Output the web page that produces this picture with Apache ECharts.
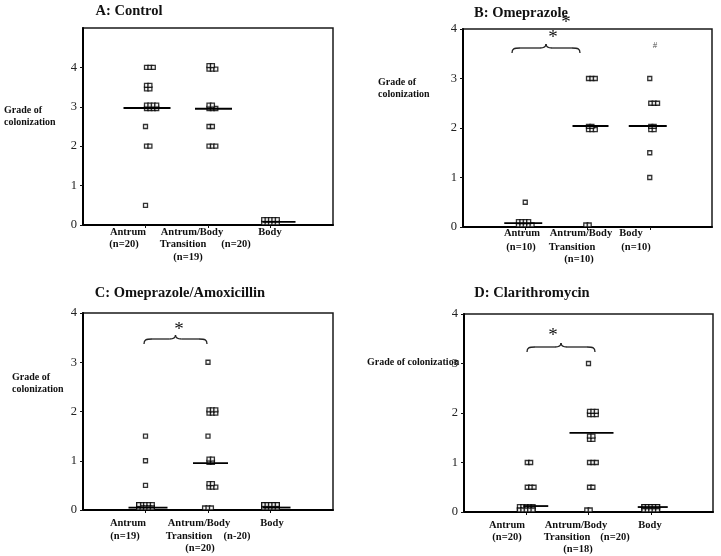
<!DOCTYPE html>
<html><head><meta charset="utf-8">
<script src="https://cdn.jsdelivr.net/npm/echarts@6/dist/echarts.min.js"></script>
<style>html,body{margin:0;padding:0;background:#fff}#c{width:721px;height:556px}</style>
</head><body><div id="c"></div>
<script>
// ---------- DATA ----------
const categories = ['Antrum', 'Antrum/Body Transition', 'Body'];
const catPos = [1, 2, 3];
const yTickLabels = [0, 1, 2, 3, 4];
const panelTitles = ['A: Control', 'B: Omeprazole', 'C: Omeprazole/Amoxicillin', 'D: Clarithromycin'];

// each entry: [grade of colonization, number of animals]
const controlAntrum = [[4, 3], [3.5, 4], [3, 8], [2.5, 1], [2, 2], [0.5, 1]];
const controlTransition = [[4, 5], [3, 5], [2.5, 2], [2, 3]];
const controlBody = [[0, 10]];
const controlMedians = [2.97, 2.95, 0.08];

const omeAntrum = [[0.5, 1], [0, 9]];
const omeTransition = [[3, 3], [2, 5], [0, 2]];
const omeBody = [[3, 1], [2.5, 3], [2, 4], [1.5, 1], [1, 1]];
const omeMedians = [0.08, 2.04, 2.04];

const omeAmoxAntrum = [[1.5, 1], [1, 1], [0.5, 1], [0, 16]];
const omeAmoxTransition = [[3, 1], [2, 6], [1.5, 1], [1, 4], [0.5, 5], [0, 3]];
const omeAmoxBody = [[0, 20]];
const omeAmoxMedians = [0.05, 0.95, 0.05];

const clariAntrum = [[1, 2], [0.5, 3], [0, 15]];
const clariTransition = [[3, 1], [2, 6], [1.5, 4], [1, 3], [0.5, 2], [0, 2]];
const clariBody = [[0, 20]];
const clariMedians = [0.12, 1.6, 0.1];

// ---------- LAYOUT / STYLE ----------
const SERIF = '"Liberation Serif","Times New Roman",serif';
const SP = 3.4; // marker spacing px
const panels = [
  { groups: [controlAntrum, controlTransition, controlBody], medians: controlMedians, yMax: 5,
    grid: { left: 83, top: 28, width: 250, height: 197 }, labelPad: 0,
    medExt: [[22, 25], [13, 24], [8, 25]] },
  { groups: [omeAntrum, omeTransition, omeBody], medians: omeMedians, yMax: 4,
    grid: { left: 463, top: 29, width: 249, height: 198 }, labelPad: 0,
    medExt: [[21, 17], [15, 21], [21, 17]] },
  { groups: [omeAmoxAntrum, omeAmoxTransition, omeAmoxBody], medians: omeAmoxMedians, yMax: 4,
    grid: { left: 83, top: 313, width: 250, height: 197 }, labelPad: 8,
    medExt: [[17, 22], [15, 20], [8, 20]] },
  { groups: [clariAntrum, clariTransition, clariBody], medians: clariMedians, yMax: 4,
    grid: { left: 464, top: 314, width: 249, height: 198 }, labelPad: 5,
    medExt: [[3, 22], [19, 25], [13, 17]] }
];

function buildPoints(groups) {
  const pts = [];
  groups.forEach((g, ci) => {
    g.forEach(([grade, n]) => {
      const cols = n <= 3 ? n : Math.min(5, Math.ceil(n / 2));
      const rows = Math.min(2, Math.ceil(n / cols));
      for (let i = 0; i < n; i++) {
        const c = i % cols, r = Math.floor(i / cols) % 2;
        let dx, dy;
        if (grade === 0) { dx = (c - (cols - 1) / 2) * SP; dy = -(2 + r * SP); }
        else { dx = c * SP + (cols > 1 ? 1 : 0); dy = rows > 1 ? (r === 0 ? SP / 2 : -SP / 2) : 0; }
        pts.push({ value: [catPos[ci], grade], symbolOffset: [dx, dy] });
      }
    });
  });
  return pts;
}

const grids = [], xAxes = [], yAxes = [], series = [];
panels.forEach((p, k) => {
  grids.push(Object.assign({ show: true, borderColor: '#1a1a1a', borderWidth: 1.5, backgroundColor: 'transparent' }, p.grid));
  xAxes.push({
    type: 'value', gridIndex: k, min: 0, max: 4, interval: 1,
    axisLine: { show: true, onZero: false, lineStyle: { color: '#000', width: 2 } },
    axisTick: { show: true, customValues: catPos, length: 3, lineStyle: { color: '#111' } },
    axisLabel: { show: false }, splitLine: { show: false }
  });
  yAxes.push({
    type: 'value', gridIndex: k, min: 0, max: p.yMax, interval: 1,
    axisLine: { show: true, lineStyle: { color: '#000', width: 2 } },
    axisTick: { show: true, customValues: yTickLabels, length: 3, lineStyle: { color: '#111' } },
    axisLabel: { customValues: yTickLabels, fontFamily: SERIF, fontSize: 12.5, color: '#222', margin: 6,
      padding: [p.labelPad, 0, 0, 0] },
    splitLine: { show: false }
  });
  series.push({
    type: 'scatter', xAxisIndex: k, yAxisIndex: k, symbol: 'rect', symbolSize: 4,
    itemStyle: { color: '#f4f4f4', borderColor: '#000', borderWidth: 1.3 },
    data: buildPoints(p.groups), silent: true, z: 2
  });
  series.push({
    type: 'custom', xAxisIndex: k, yAxisIndex: k, z: 3, silent: true,
    data: p.medians.map((m, i) => [catPos[i], m, i]),
    renderItem: (params, api) => {
      const pt = api.coord([api.value(0), api.value(1)]);
      const ext = p.medExt[api.value(2)];
      return { type: 'line', shape: { x1: pt[0] - ext[0], y1: pt[1], x2: pt[0] + ext[1], y2: pt[1] },
        style: { stroke: '#000', lineWidth: 1.8 } };
    }
  });
});

// ---------- ANNOTATIONS ----------
function txt(s, x, y, size, bold, align, fill) {
  return { type: 'text', x: x, y: y, silent: true,
    style: { text: s, fill: fill || '#111', font: (bold ? 'bold ' : '') + size + 'px ' + SERIF,
      textAlign: align || 'center', textVerticalAlign: 'middle' } };
}
function brace(x1, x2, y) {
  const xm = (x1 + x2) / 2, st = { stroke: '#222', lineWidth: 1.3, fill: null };
  const b = (a, c1, c2, e) => ({ type: 'bezierCurve', silent: true, style: st,
    shape: { x1: a[0], y1: a[1], cpx1: c1[0], cpy1: c1[1], cpx2: c2[0], cpy2: c2[1], x2: e[0], y2: e[1] } });
  const l = (a, e) => ({ type: 'line', silent: true, style: st, shape: { x1: a[0], y1: a[1], x2: e[0], y2: e[1] } });
  return [
    b([x1, y + 7], [x1, y + 2.5], [x1 + 2, y + 2], [x1 + 8, y + 2]),
    l([x1 + 8, y + 2], [xm - 6, y + 2]),
    b([xm - 6, y + 2], [xm - 2, y + 2], [xm, y + 1], [xm, y - 2]),
    b([xm, y - 2], [xm, y + 1], [xm + 2, y + 2], [xm + 6, y + 2]),
    l([xm + 6, y + 2], [x2 - 8, y + 2]),
    b([x2 - 8, y + 2], [x2 - 2, y + 2], [x2, y + 2.5], [x2, y + 7])
  ];
}

const graphics = [
  txt(panelTitles[0], 129, 11, 14.5, true),
  txt(panelTitles[1], 521, 13, 14.5, true),
  txt(panelTitles[2], 180, 293, 14.5, true),
  txt(panelTitles[3], 532, 293, 14.5, true),
  // y-axis names
  txt('Grade of', 4, 110, 10, true, 'left'), txt('colonization', 4, 122, 10, true, 'left'),
  txt('Grade of', 378, 82, 10, true, 'left'), txt('colonization', 378, 94, 10, true, 'left'),
  txt('Grade of', 12, 377, 10, true, 'left'), txt('colonization', 12, 389, 10, true, 'left'),
  txt('Grade of colonization', 367, 362, 10, true, 'left'),
  // A category labels
  txt('Antrum', 128, 232, 10.5, true), txt('(n=20)', 124, 244, 10.5, true),
  txt('Antrum/Body', 192, 232, 10.5, true), txt('Transition', 183, 244, 10.5, true),
  txt('(n=20)', 236, 244, 10.5, true), txt('(n=19)', 188, 257, 10.5, true),
  txt('Body', 270, 232, 10.5, true),
  // B
  txt('Antrum', 522, 233, 10.5, true), txt('(n=10)', 521, 247, 10.5, true),
  txt('Antrum/Body', 581, 233, 10.5, true), txt('Transition', 572, 247, 10.5, true),
  txt('(n=10)', 579, 259, 10.5, true),
  txt('Body', 631, 233, 10.5, true), txt('(n=10)', 636, 247, 10.5, true),
  // C
  txt('Antrum', 128, 523, 10.5, true), txt('(n=19)', 125, 536, 10.5, true),
  txt('Antrum/Body', 199, 523, 10.5, true), txt('Transition', 189, 536, 10.5, true),
  txt('(n-20)', 237, 536, 10.5, true), txt('(n=20)', 200, 548, 10.5, true),
  txt('Body', 272, 523, 10.5, true),
  // D
  txt('Antrum', 507, 525, 10.5, true), txt('(n=20)', 507, 537, 10.5, true),
  txt('Antrum/Body', 576, 525, 10.5, true), txt('Transition', 567, 537, 10.5, true),
  txt('(n=20)', 615, 537, 10.5, true), txt('(n=18)', 578, 549, 10.5, true),
  txt('Body', 650, 525, 10.5, true),
  // significance marks
  txt('*', 566, 23, 19, false), txt('*', 553, 38, 19, false), txt('#', 655, 46, 9, false, 'center', '#555'),
  txt('*', 179, 330, 19, false), txt('*', 553, 336, 19, false)
].concat(brace(512, 580, 46), brace(144, 207, 337), brace(527, 595, 345));

const chart = echarts.init(document.getElementById('c'), null, { renderer: 'canvas' });
chart.setOption({
  animation: false,
  backgroundColor: '#fff',
  grid: grids, xAxis: xAxes, yAxis: yAxes, series: series,
  graphic: { elements: graphics }
});
</script></body></html>
